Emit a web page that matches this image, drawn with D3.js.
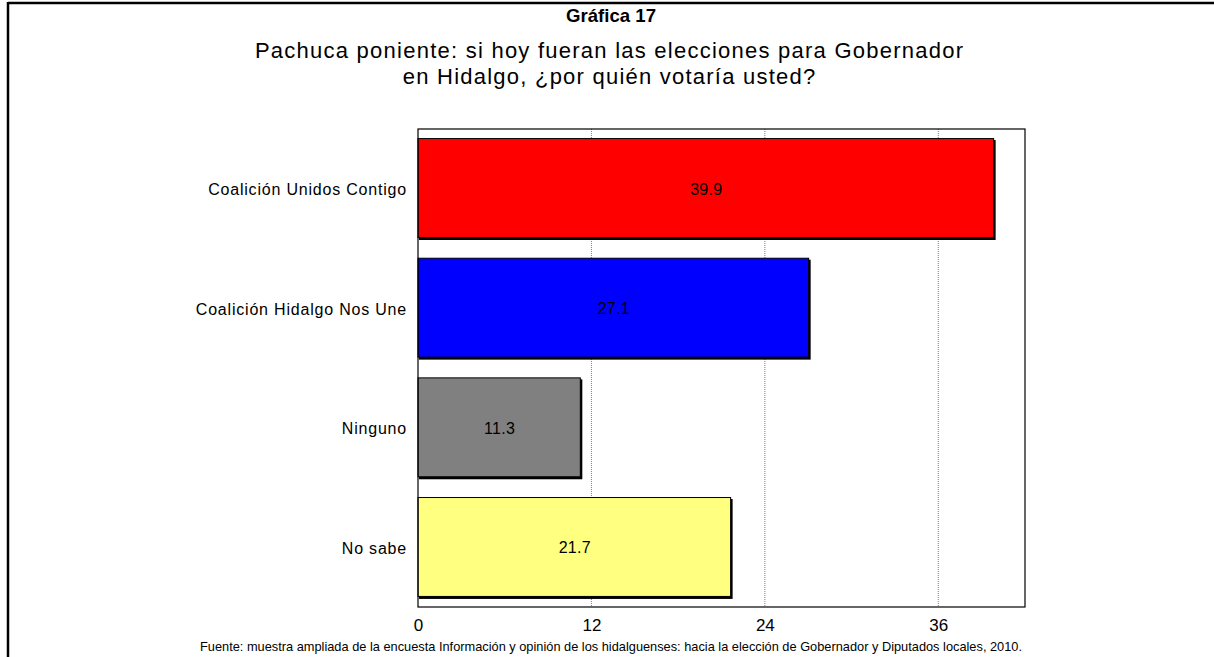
<!DOCTYPE html>
<html><head><meta charset="utf-8">
<script src="https://cdn.jsdelivr.net/npm/d3@7"></script>
<style>body{margin:0;background:#fff}svg{display:block}text{font-family:"Liberation Sans",Arial,sans-serif;fill:#000}</style>
</head><body><svg id="c" width="1214" height="657"></svg>
<script>
const categories = ["Coalición Unidos Contigo","Coalición Hidalgo Nos Une","Ninguno","No sabe"];
const values = [39.9, 27.1, 11.3, 21.7];
const colors = ["#FF0000","#0000FF","#808080","#FFFF80"];
const tickValues = [0, 12, 24, 36];
const titleText = "Gráfica 17";
const subtitleLines = ["Pachuca poniente: si hoy fueran las elecciones para Gobernador","en Hidalgo, ¿por quién votaría usted?"];
const sourceText = "Fuente: muestra ampliada de la encuesta Información y opinión de los hidalguenses: hacia la elección de Gobernador y Diputados locales, 2010.";

const svg = d3.select("#c");
const m = {left:418, right:1025, top:129, bottom:607};
const x = d3.scaleLinear().domain([0,42]).range([m.left, m.right]);
const y = d3.scaleBand().domain(categories).range([m.top, m.bottom]).paddingInner(0.165).paddingOuter(0.08);

// outer frame
svg.append("line").attr("x1",8).attr("x2",1214).attr("y1",3).attr("y2",3).attr("stroke","#000").attr("stroke-width",2.5);
svg.append("line").attr("x1",8).attr("x2",8).attr("y1",2).attr("y2",657).attr("stroke","#000").attr("stroke-width",2.5);

// titles
svg.append("text").attr("x",611).attr("y",22).attr("text-anchor","middle")
  .attr("textLength",90).attr("lengthAdjust","spacingAndGlyphs")
  .style("font-weight","bold").style("font-size","19px").text(titleText);
subtitleLines.forEach((t,i)=>{
  const tx = svg.append("text").attr("x",609).attr("y",58+i*26).attr("text-anchor","middle").style("font-size","22px").text(t);
  const w = tx.node().getComputedTextLength();
  tx.attr("textLength", w*1.12).attr("lengthAdjust","spacing");
});

// plot frame background
svg.append("rect").attr("x",m.left).attr("y",m.top).attr("width",m.right-m.left).attr("height",m.bottom-m.top)
  .attr("fill","#fff").attr("stroke","none");

// grid
svg.append("g").selectAll("line").data(tickValues.filter(d=>d>0)).join("line")
  .attr("x1",d=>x(d)).attr("x2",d=>x(d)).attr("y1",m.top).attr("y2",m.bottom)
  .attr("stroke","#808080").attr("stroke-width",1).attr("stroke-dasharray","1,1");

// bars shadow
svg.append("g").selectAll("rect").data(values).join("rect")
  .attr("x",x(0)+1).attr("y",(d,i)=>y(categories[i])+1.5)
  .attr("width",d=>x(d)-x(0)).attr("height",y.bandwidth())
  .attr("fill","#000");
// bars
svg.append("g").selectAll("rect").data(values).join("rect")
  .attr("x",x(0)).attr("y",(d,i)=>y(categories[i]))
  .attr("width",d=>x(d)-x(0)-1).attr("height",y.bandwidth()-1)
  .attr("fill",(d,i)=>colors[i]).attr("stroke","#000").attr("stroke-width",1);

// value labels
svg.append("g").selectAll("text").data(values).join("text")
  .attr("x",d=>(x(0)+x(d))/2).attr("y",(d,i)=>y(categories[i])+y.bandwidth()/2+6)
  .attr("text-anchor","middle").style("font-size","16px").style("letter-spacing","0.3px").text(d=>d.toFixed(1));

// plot border
svg.append("rect").attr("x",m.left).attr("y",m.top).attr("width",m.right-m.left).attr("height",m.bottom-m.top)
  .attr("fill","none").attr("stroke","#000").attr("stroke-width",1.2);

// x axis
const xa = svg.append("g").attr("transform",`translate(0,${m.bottom})`)
  .call(d3.axisBottom(x).tickValues(tickValues).tickSize(0).tickPadding(12).tickFormat(d3.format("d")));
xa.select(".domain").remove();
xa.selectAll("text").style("font-size","17px").style("font-family","'Liberation Sans',Arial");

// y axis labels
const ya = svg.append("g").attr("transform",`translate(${m.left},0)`)
  .call(d3.axisLeft(y).tickSize(0).tickPadding(11));
ya.select(".domain").remove();
ya.selectAll("text").style("font-size","16px").style("letter-spacing","0.8px").style("font-family","'Liberation Sans',Arial").attr("dy","0.4em");

// source
svg.append("text").attr("x",611).attr("y",651).attr("text-anchor","middle")
  .attr("textLength",822).attr("lengthAdjust","spacingAndGlyphs")
  .style("font-size","13.5px").text(sourceText);
</script></body></html>
